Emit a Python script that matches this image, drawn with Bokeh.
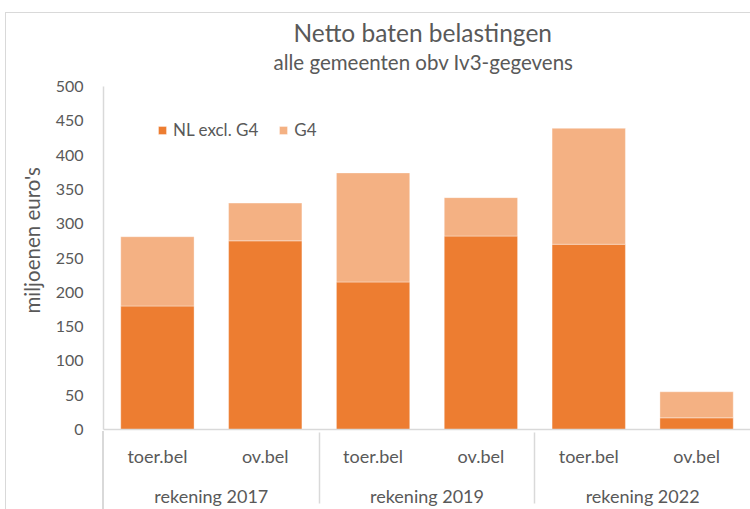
from bokeh.plotting import figure
from bokeh.models import (FactorRange, Range1d, Title, Legend, LegendItem, FixedTicker,
                          ColumnDataSource)
from bokeh.embed import file_html
from bokeh.resources import INLINE

title_text = "Netto baten belastingen"
subtitle_text = "alle gemeenten obv Iv3-gegevens"
y_label = "miljoenen euro's"
years = ["rekening 2017", "rekening 2019", "rekening 2022"]
types = ["toer.bel", "ov.bel"]
series_names = ["NL excl. G4", "G4"]
nl_excl_g4 = [180, 275, 215, 282, 270, 17]
g4 = [101, 55, 159, 56, 169, 38]
y_ticks = [0, 50, 100, 150, 200, 250, 300, 350, 400, 450, 500]

FONT = "Lato"
TXT = "#595959"
AXC = "#d9d9d9"

factors = [(y, t) for y in years for t in types]
source = ColumnDataSource(dict(x=factors, nl=nl_excl_g4, g4=g4))

p = figure(x_range=FactorRange(factors=factors, range_padding=0, group_padding=0, factor_padding=0),
           y_range=Range1d(0, 500), width=750, height=509,
           output_backend="svg", toolbar_location=None,
           min_border_left=103, min_border_right=0, min_border_top=86, min_border_bottom=78)

rs = p.vbar_stack(["nl", "g4"], x="x", width=0.68, source=source,
                  color=["#ED7D31", "#F4B183"], line_color="white", line_alpha=0.35, line_width=1)

legend = Legend(items=[LegendItem(label=series_names[0], renderers=[rs[0]]),
                       LegendItem(label=series_names[1], renderers=[rs[1]])],
                orientation="horizontal", location=(54, 289),
                border_line_color=None, background_fill_alpha=0,
                glyph_width=10, glyph_height=10, label_standoff=6, spacing=20,
                padding=0, margin=0,
                label_text_font=FONT, label_text_font_size="17px", label_text_color=TXT)
p.add_layout(legend)

p.add_layout(Title(text=subtitle_text, align="left", offset=170, text_font=FONT,
                   text_font_size="20.5px", text_color=TXT, text_font_style="normal", standoff=26), "above")
p.add_layout(Title(text=title_text, align="left", offset=190, text_font=FONT,
                   text_font_size="24.5px", text_color=TXT, text_font_style="normal", standoff=-24), "above")
p.add_layout(Title(text=y_label, align="left", offset=116, text_font=FONT,
                   text_font_size="20.5px", text_color=TXT, text_font_style="normal", standoff=17), "left")

p.xgrid.grid_line_color = None
p.ygrid.grid_line_color = None
p.outline_line_color = None
p.border_fill_alpha = 0
p.styles = {
    "background": "linear-gradient(#d9d9d9, #d9d9d9) 5px 12px / 745px 1px no-repeat, "
                  "linear-gradient(#d9d9d9, #d9d9d9) 5px 12px / 1px 497px no-repeat, "
                  "linear-gradient(#d9d9d9, #d9d9d9) 102px 431px / 2px 78px no-repeat, #ffffff"
}

p.yaxis.ticker = FixedTicker(ticks=y_ticks)
p.yaxis.major_label_text_font = FONT
p.yaxis.major_label_text_font_size = "16px"
p.yaxis.major_label_text_color = TXT
p.yaxis.major_label_standoff = 20
p.yaxis.major_tick_out = 0
p.yaxis.major_tick_in = 0
p.yaxis.axis_line_color = AXC
p.yaxis.axis_line_width = 1.5
p.yaxis.major_tick_line_color = None
p.yaxis.minor_tick_line_color = None

p.xaxis.axis_line_color = AXC
p.xaxis.axis_line_width = 1.5
p.xaxis.major_tick_line_color = None
p.xaxis.minor_tick_line_color = None
p.xaxis.major_tick_out = 0
p.xaxis.major_tick_in = 0
p.xaxis.major_label_text_font = FONT
p.xaxis.major_label_text_font_size = "18px"
p.xaxis.major_label_text_color = TXT
p.xaxis.major_label_standoff = 15
p.xaxis.group_text_font = FONT
p.xaxis.group_text_font_size = "18px"
p.xaxis.group_text_font_style = "normal"
p.xaxis.group_text_color = TXT
p.xaxis.separator_line_color = AXC
p.xaxis.separator_line_width = 1.5

open("out.html", "w").write(file_html(p, INLINE))
